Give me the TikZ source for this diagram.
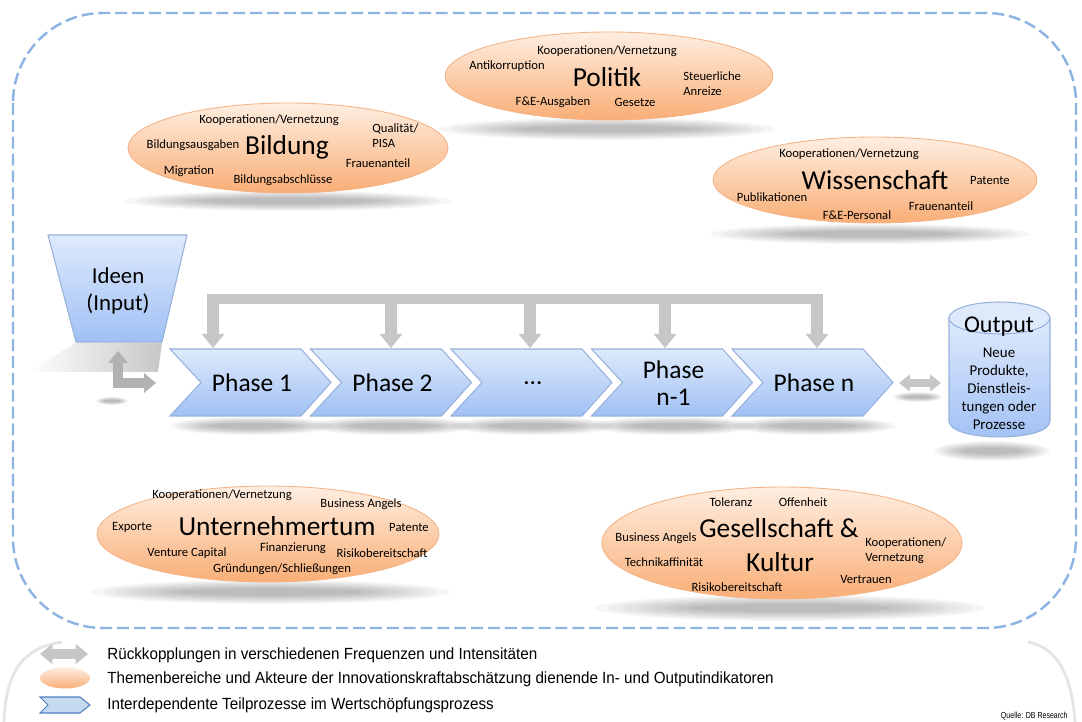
\documentclass[tikz,border=0pt]{standalone}
\usepackage{fontspec}
\setmainfont{Carlito}
\newfontfamily\legfont[FakeStretch=0.94]{Liberation Sans}
\newfontfamily\srcfont[FakeStretch=0.8]{Liberation Sans}
\usetikzlibrary{shapes.geometric,arrows.meta}
\definecolor{dashblue}{RGB}{141,180,227}
\definecolor{orTop}{RGB}{254,238,225}
\definecolor{orBot}{RGB}{249,174,118}
\definecolor{orEdge}{RGB}{244,180,135}
\definecolor{blTop}{RGB}{222,234,252}
\definecolor{blBot}{RGB}{160,192,244}
\definecolor{blEdge}{RGB}{150,177,220}
\definecolor{arrGray}{RGB}{198,198,198}
\definecolor{legBlue}{RGB}{197,217,241}
\definecolor{legEdge}{RGB}{79,129,189}
\newcommand{\softshadow}[4]{%
  \foreach \k in {0,...,7}{\fill[black, opacity=0.035] (#1,#2) ellipse [x radius={#3*(1-0.07*\k)}, y radius={#4*(1-0.1*\k)}];}}
\tikzset{
  theme/.style={ellipse, inner sep=0pt, top color=orTop, bottom color=orBot, draw=orEdge, line width=0.5pt},
  chev/.style={top color=blTop, bottom color=blBot, draw=blEdge, line width=0.6pt},
  lbl/.style={inner sep=0pt, font=\fontsize{7.2}{8.5}\selectfont},
  ttl/.style={inner sep=0pt, font=\fontsize{15.6}{18.7}\selectfont},
  phtxt/.style={inner sep=0pt, align=center, font=\fontsize{14.5}{15.3}\selectfont},
  fb/.style={draw=arrGray, line width=6.8pt, -{Triangle[width=13pt,length=8pt,line width=0pt]}},
  barline/.style={draw=arrGray, line width=5.7pt},
  larr/.style={draw=black!30, line width=5.7pt, line join=miter, {Triangle[width=11.3pt,length=6.8pt,line width=0pt]}-{Triangle[width=11.3pt,length=6.8pt,line width=0pt]}},
  darr/.style={draw=arrGray, line width=4.5pt, {Triangle[width=9.6pt,length=6.2pt,line width=0pt]}-{Triangle[width=9.6pt,length=6.2pt,line width=0pt]}},
  legarr/.style={draw=arrGray, line width=5.7pt, {Triangle[width=11.5pt,length=7pt,line width=0pt]}-{Triangle[width=11.5pt,length=7pt,line width=0pt]}},
  legtxt/.style={inner sep=0pt, anchor=west, font=\legfont\fontsize{9.2}{10.5}\selectfont},
  dashbox/.style={draw=dashblue, line width=1.4pt, dash pattern=on 6.8pt off 2.8pt, rounded corners=1.8cm}
}
\begin{document}
\begin{tikzpicture}[x=0.02cm,y=-0.02cm]
\fill[white, use as bounding box] (0,0) rectangle (1082,722);

% faint reflection of frame
\draw[black!10, line width=1.6pt] (4,722) .. controls (6,672) and (22,648) .. (62,642);
\draw[black!10, line width=1.6pt] (1028,642) .. controls (1060,648) and (1072,680) .. (1075,722);

% frame
\draw[dashbox] (13,13) rectangle (1076,628);

% shadows
\softshadow{607}{129}{168}{11}
\softshadow{288}{201}{163}{10}
\softshadow{870}{234}{160}{10}
\softshadow{270}{592}{180}{12}
\softshadow{790}{608}{195}{13}
\softshadow{992}{451}{58}{10}
\softshadow{918}{397}{25}{5}
\softshadow{112}{401}{16}{4}

% Politik
\node[theme, minimum width=6.56cm, minimum height=1.76cm] (politik) at (609,76) {};
\node[lbl] (po1) at (607,51) {Kooperationen/Vernetzung};
\node[lbl] (po2) at (507,66) {Antikorruption};
\node[ttl] (po3) at (607,77) {Politik};
\node[lbl, anchor=west, align=left] (po4) at (683,84) {Steuerliche\\Anreize};
\node[lbl] (po5) at (553,102) {F\&E-Ausgaben};
\node[lbl] (po6) at (635,102) {Gesetze};

% Bildung
\node[theme, minimum width=6.4cm, minimum height=1.8cm] (bildung) at (288,148) {};
\node[lbl] (bi1) at (269,120) {Kooperationen/Vernetzung};
\node[lbl] (bi2) at (193,145) {Bildungsausgaben};
\node[ttl] (bi3) at (287,147) {Bildung};
\node[lbl, anchor=west, align=left] (bi4) at (372,136) {Qualität/\\PISA};
\node[lbl] (bi5) at (378,163) {Frauenanteil};
\node[lbl] (bi6) at (189,171) {Migration};
\node[lbl] (bi7) at (283,180) {Bildungsabschlüsse};

% Wissenschaft
\node[theme, minimum width=6.48cm, minimum height=1.72cm] (wiss) at (875,180) {};
\node[lbl] (wi1) at (849,154) {Kooperationen/Vernetzung};
\node[ttl] (wi2) at (875,180) {Wissenschaft};
\node[lbl] (wi3) at (990,180) {Patente};
\node[lbl] (wi4) at (772,197) {Publikationen};
\node[lbl] (wi5) at (857,215) {F\&E-Personal};
\node[lbl] (wi6) at (941,206) {Frauenanteil};

% Unternehmertum
\node[theme, minimum width=6.84cm, minimum height=1.92cm] (unt) at (268,534) {};
\node[lbl] (un1) at (222,495) {Kooperationen/Vernetzung};
\node[lbl] (un2) at (361,504) {Business Angels};
\node[lbl] (un3) at (132,527) {Exporte};
\node[ttl] (un4) at (277,526) {Unternehmertum};
\node[lbl] (un5) at (409,527) {Patente};
\node[lbl] (un6) at (187,553) {Venture Capital};
\node[lbl] (un7) at (293,548) {Finanzierung};
\node[lbl] (un8) at (382,553) {Risikobereitschaft};
\node[lbl] (un9) at (282,569) {Gründungen/Schließungen};

% Gesellschaft & Kultur
\node[theme, minimum width=7.2cm, minimum height=2.24cm] (ges) at (782,543) {};
\node[lbl] (ge1) at (731,502) {Toleranz};
\node[lbl] (ge2) at (803,502) {Offenheit};
\node[ttl] (ge3) at (779,528) {Gesellschaft \&};
\node[lbl] (ge4) at (656,538) {Business Angels};
\node[lbl] (ge5) at (664,562) {Technikaffinität};
\node[ttl] (ge6) at (780,562) {Kultur};
\node[lbl, anchor=west, align=left] (ge7) at (865,551) {Kooperationen/\\Vernetzung};
\node[lbl] (ge8) at (866,579) {Vertrauen};
\node[lbl] (ge9) at (737,587) {Risikobereitschaft};

% Ideen (Input)
\shade[left color=white, right color=black!22] (76,343) -- (162,343) -- (158,372) -- (28,372) -- cycle;
\path[chev] (48,235) -- (187,235) -- (162,342) -- (76,342) -- cycle;
\node[inner sep=0pt, align=center, font=\fontsize{13}{15.3}\selectfont] (ideen) at (118,291) {Ideen\\(Input)};

% chevrons
\foreach \L/\nm/\txt in {170/ph1/{Phase 1}, 310.5/ph2/{Phase 2}, 451/ph3/{…}, 591.5/ph4/{Phase\\n-1}, 732/ph5/{Phase n}} {
  \softshadow{\L+82}{426}{82}{9}
  \path[chev] (\L,349) -- ++(131,0) -- ++(30,33.5) -- ++(-30,33.5) -- ++(-131,0) -- ++(31,-33.5) -- cycle;
  \node[phtxt] (\nm) at (\L+82,383) {\txt};
}

% feedback bar and arrows
\coordinate (barL) at (207,299);
\coordinate (barR) at (823,299);
\draw[barline] (barL) -- (barR);
\foreach \x [count=\i] in {213,391,530,665,817} {
  \coordinate (s\i) at (\x,296);
  \coordinate (t\i) at (\x,348);
  \draw[fb] (s\i) -- (t\i);
}

% L arrow Ideen <-> Phase 1
\coordinate (lu) at (118,351);
\coordinate (lr) at (156,383);
\draw[larr] (lu) |- (lr);

% Output cylinder
\path[top color=blTop, bottom color=blBot, draw=blEdge, line width=0.6pt]
  (949,318) -- (949,421) .. controls (949,442.3) and (1050,442.3) .. (1050,421) -- (1050,318) -- cycle;
\node[ellipse, inner sep=0pt, minimum width=2.02cm, minimum height=0.64cm, fill=blTop, draw=blEdge, line width=0.6pt] (outtop) at (999.5,318) {};
\node[inner sep=0pt, font=\fontsize{13.7}{15}\selectfont] (outttl) at (999,327) {Output};
\node[inner sep=0pt, align=center, font=\fontsize{8.5}{10.2}\selectfont] (outtxt) at (999,389) {Neue\\Produkte,\\Dienstleis-\\tungen oder\\Prozesse};

% double arrow Phase n <-> Output
\coordinate (dl) at (899,383);
\coordinate (dr) at (941,383);
\draw[darr] (dl) -- (dr);

% legend
\coordinate (la1) at (40,654);
\coordinate (la2) at (88,654);
\draw[legarr] (la1) -- (la2);
\node[ellipse, inner sep=0pt, minimum width=1cm, minimum height=0.42cm, top color=orTop, bottom color=orBot] (legell) at (65,678) {};
\path[fill=legBlue, draw=legEdge, line width=0.6pt] (40,697) -- (80,697) -- (90,705) -- (80,713) -- (40,713) -- (48,705) -- cycle;
\node[legtxt] (lt1) at (107,655) {Rückkopplungen in verschiedenen Frequenzen und Intensitäten};
\node[legtxt] (lt2) at (107,679) {Themenbereiche und Akteure der Innovationskraftabschätzung dienende In- und Outputindikatoren};
\node[legtxt] (lt3) at (107,705) {Interdependente Teilprozesse im Wertschöpfungsprozess};
\node[inner sep=0pt, anchor=east, font=\srcfont\fontsize{5}{6}\selectfont] (src) at (1068,716) {Quelle: DB Research};
\end{tikzpicture}
\end{document}
